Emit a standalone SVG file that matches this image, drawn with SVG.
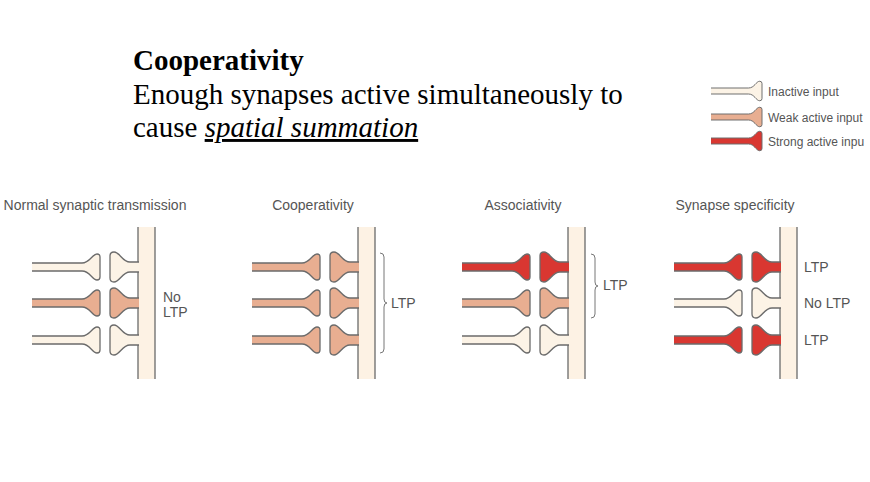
<svg xmlns="http://www.w3.org/2000/svg" xmlns:xlink="http://www.w3.org/1999/xlink" width="870" height="482" viewBox="0 0 870 482">
<style>
.ser{font-family:"Liberation Serif",serif;font-size:29px;fill:#000}
.lab{font-family:"Liberation Sans",Arial,sans-serif;font-size:14px;fill:#555}
.leg{font-family:"Liberation Sans",Arial,sans-serif;font-size:12px;fill:#555}
.i{fill:#fcf3e6}.w{fill:#e8ae91}.s{fill:#d93731}
.sh{stroke:#6b6b6b;stroke-width:1.3}
.den{fill:#fdf2e4}
.dl{stroke:#6b6b6b;stroke-width:1.3}
.br{fill:none;stroke:#777;stroke-width:1}
</style>
<defs>
<path id="b" d="M -68 -4 H -18 C -10 -4 -8 -13 -3 -13 Q 0 -13 0 -10 V 10 Q 0 13 -3 13 C -8 13 -10 4 -18 4 H -68"/>
<path id="sp" d="M 39 -5 H 30 C 22 -5 20 -15 14 -15 Q 10 -15 10 -11 V 11 Q 10 15 14 15 C 20 15 22 5 30 5 H 39"/>
<g id="den"><rect class="den" x="0" y="227" width="17" height="152"/><path class="dl" d="M0 227 V379 M17 227 V379"/></g>
</defs>
<rect width="870" height="482" fill="#fff"/>
<g id="title">
<text class="ser" x="133" y="70" font-weight="bold">Cooperativity</text>
<text class="ser" x="133" y="104">Enough synapses active simultaneously to</text>
<text class="ser" x="133" y="137">cause <tspan font-style="italic" text-decoration="underline">spatial summation</tspan></text>
</g>
<g id="legend">
<g transform="translate(762,91) scale(0.75)"><use href="#b" class="i sh"/></g>
<g transform="translate(762,117) scale(0.75)"><use href="#b" class="w sh"/></g>
<g transform="translate(762,141) scale(0.75)"><use href="#b" class="s sh"/></g>
<text class="leg" x="768" y="96">Inactive input</text>
<text class="leg" x="768" y="122">Weak active input</text>
<text class="leg" x="768" y="146">Strong active inpu</text>
</g>
<g id="panel1">
<text class="lab" x="95" y="210" text-anchor="middle">Normal synaptic transmission</text>
<use href="#den" x="138"/>
<use href="#b" class="i sh" x="100" y="267"/><use href="#sp" class="i sh" x="100" y="267"/>
<use href="#b" class="w sh" x="100" y="303"/><use href="#sp" class="w sh" x="100" y="303"/>
<use href="#b" class="i sh" x="100" y="340"/><use href="#sp" class="i sh" x="100" y="340"/>
<text class="lab" x="163" y="302">No</text><text class="lab" x="163" y="317">LTP</text>
</g>
<g id="panel2">
<text class="lab" x="313" y="210" text-anchor="middle">Cooperativity</text>
<use href="#den" x="358"/>
<use href="#b" class="w sh" x="320" y="267"/><use href="#sp" class="w sh" x="320" y="267"/>
<use href="#b" class="w sh" x="320" y="303"/><use href="#sp" class="w sh" x="320" y="303"/>
<use href="#b" class="w sh" x="320" y="340"/><use href="#sp" class="w sh" x="320" y="340"/>
<path class="br" d="M380 253 Q384 253 384 257 V299 Q384 303 387 303 Q384 303 384 307 V349 Q384 353 380 353"/>
<text class="lab" x="391" y="308">LTP</text>
</g>
<g id="panel3">
<text class="lab" x="523" y="210" text-anchor="middle">Associativity</text>
<use href="#den" x="568"/>
<use href="#b" class="s sh" x="530" y="267"/><use href="#sp" class="s sh" x="530" y="267"/>
<use href="#b" class="w sh" x="530" y="303"/><use href="#sp" class="w sh" x="530" y="303"/>
<use href="#b" class="i sh" x="530" y="340"/><use href="#sp" class="i sh" x="530" y="340"/>
<path class="br" d="M591 254 Q595 254 595 258 V282 Q595 286 598 286 Q595 286 595 290 V314 Q595 318 591 318"/>
<text class="lab" x="603" y="290">LTP</text>
</g>
<g id="panel4">
<text class="lab" x="735" y="210" text-anchor="middle">Synapse specificity</text>
<use href="#den" x="780"/>
<use href="#b" class="s sh" x="742" y="267"/><use href="#sp" class="s sh" x="742" y="267"/>
<use href="#b" class="i sh" x="742" y="303"/><use href="#sp" class="i sh" x="742" y="303"/>
<use href="#b" class="s sh" x="742" y="340"/><use href="#sp" class="s sh" x="742" y="340"/>
<text class="lab" x="804" y="272">LTP</text>
<text class="lab" x="804" y="308">No LTP</text>
<text class="lab" x="804" y="345">LTP</text>
</g>
<g id="connectors"/>
</svg>
